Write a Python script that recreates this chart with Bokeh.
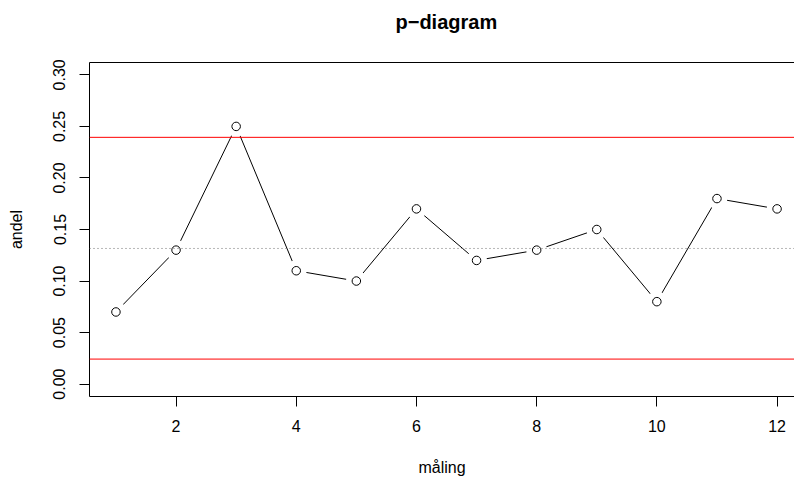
from bokeh.plotting import figure
from bokeh.models import Range1d, FixedTicker, PrintfTickFormatter, Span, LinearAxis
from bokeh.embed import file_html
from bokeh.resources import INLINE

# data
maling = list(range(1, 13))
andel = [0.07, 0.13, 0.25, 0.11, 0.10, 0.17, 0.12, 0.13, 0.15, 0.08, 0.18, 0.17]
center_line = 0.1316
ucl = 0.2394
lcl = 0.0243
x_ticks = [2, 4, 6, 8, 10, 12]
y_ticks = [0.00, 0.05, 0.10, 0.15, 0.20, 0.25, 0.30]

FONT = "Liberation Sans"
X0 = 0.56
Y0, Y1 = -0.012, 0.312

p = figure(width=794, height=479, output_backend="svg", toolbar_location=None,
           x_range=Range1d(X0, 12.29), y_range=Range1d(Y0, Y1),
           min_border_left=89, min_border_right=0, min_border_top=62, min_border_bottom=83,
           x_axis_label="måling", y_axis_label="andel")

p.background_fill_color = "white"
p.border_fill_color = "white"
p.outline_line_color = None
p.grid.visible = False

for ax in (p.xaxis[0], p.yaxis[0]):
    ax.axis_line_color = "black"
    ax.axis_line_width = 1
    ax.major_tick_line_color = "black"
    ax.major_tick_out = 10
    ax.major_tick_in = 0
    ax.minor_tick_line_color = None
    ax.major_label_text_font = FONT
    ax.major_label_text_font_size = "16px"
    ax.major_label_text_color = "black"
    ax.axis_label_text_font = FONT
    ax.axis_label_text_font_size = "16px"
    ax.axis_label_text_font_style = "normal"
    ax.axis_label_text_color = "black"

p.xaxis[0].ticker = FixedTicker(ticks=x_ticks)
p.yaxis[0].ticker = FixedTicker(ticks=y_ticks)
p.yaxis[0].formatter = PrintfTickFormatter(format="%.2f")
p.yaxis[0].major_label_orientation = "vertical"
p.xaxis[0].major_label_standoff = 13
p.xaxis[0].axis_label_standoff = 24
p.yaxis[0].major_label_standoff = 14
p.yaxis[0].axis_label_standoff = 26

# top edge of the box (and spacer between frame and title)
top = LinearAxis(ticker=FixedTicker(ticks=[x_ticks[-1]]), axis_line_color="black",
                 axis_line_width=1, major_tick_out=28, major_tick_in=0,
                 major_tick_line_color=None, minor_tick_line_color=None,
                 major_label_standoff=0, major_label_text_font_size="1px",
                 major_label_overrides={x_ticks[-1]: ""})
p.add_layout(top, "above")

p.title.text = "p\u2212diagram"
p.title.text_font = FONT
p.title.text_font_size = "20px"
p.title.text_font_style = "bold"
p.title.text_color = "black"
p.title.align = "left"
p.title.offset = 306
p.title.standoff = 4

# series (type="b" look: line with gaps around points)
p.line(maling, andel, line_color="black", line_width=1)
p.scatter(maling, andel, size=21, fill_color="white", line_color=None)
p.scatter(maling, andel, size=8.5, fill_color=None, line_color="black", line_width=1)

# control lines
p.add_layout(Span(location=center_line, dimension="width", line_color="#707070",
                  line_width=1, line_dash="1 3"))
p.add_layout(Span(location=ucl, dimension="width", line_color="#FF0000", line_width=1))
p.add_layout(Span(location=lcl, dimension="width", line_color="#FF0000", line_width=1))

open("out.html", "w").write(file_html(p, INLINE))
